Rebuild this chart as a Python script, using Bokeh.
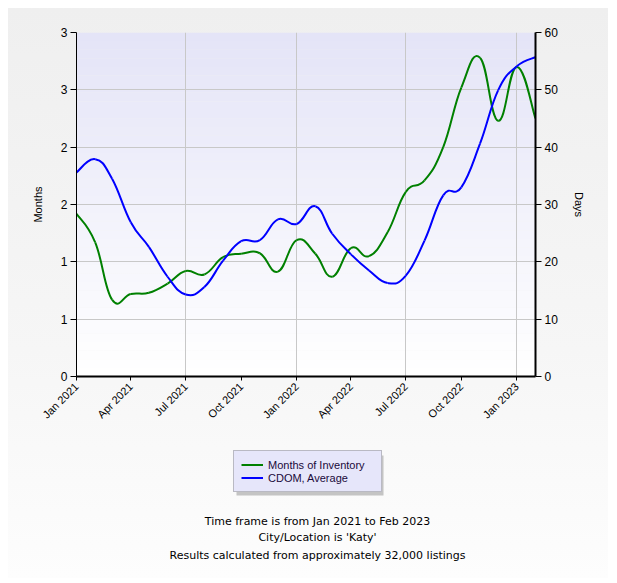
import numpy as np
import pandas as pd
from bokeh.plotting import figure
from bokeh.layouts import column
from bokeh.models import (Range1d, LinearAxis, FixedTicker, Legend, LegendItem,
                          Label, BoxAnnotation)
from bokeh.embed import file_html
from bokeh.resources import INLINE

# ---------------- data ----------------
months = pd.date_range("2021-01-01", "2023-02-01", freq="MS")
months_of_inventory = [1.42, 1.17, 0.67, 0.72, 0.73, 0.81, 0.92, 0.89, 1.04, 1.07,
                       1.075, 0.915, 1.19, 1.07, 0.87, 1.12, 1.05, 1.26, 1.61, 1.71,
                       2.00, 2.52, 2.78, 2.23, 2.70, 2.25]
cdom_average = [35.6, 37.9, 34.5, 26.9, 22.6, 17.4, 14.3, 15.6, 20.2, 23.6,
                23.8, 27.4, 26.6, 29.7, 24.9, 21.3, 18.5, 16.3, 17.6, 23.7,
                31.6, 33.0, 40.6, 49.9, 54.1, 55.7]
series_names = ["Months of Inventory", "CDOM, Average"]
series_colors = ["#008000", "#0000FF"]
x_tick_dates = pd.date_range("2021-01-01", "2023-01-01", freq="3MS")
x_tick_labels = ["Jan 2021", "Apr 2021", "Jul 2021", "Oct 2021", "Jan 2022",
                 "Apr 2022", "Jul 2022", "Oct 2022", "Jan 2023"]
x_grid_dates = pd.date_range("2021-01-01", "2023-01-01", freq="6MS")
left_tick_values = [0, 0.5, 1, 1.5, 2, 2.5, 3]
left_tick_labels = ["0", "1", "1", "2", "2", "3", "3"]
right_tick_values = [0, 10, 20, 30, 40, 50, 60]
footer_lines = ["Time frame is from Jan 2021 to Feb 2023",
                "City/Location is 'Katy'",
                "Results calculated from approximately 32,000 listings"]


def to_ms(idx):
    return (pd.DatetimeIndex(idx).as_unit("ms").asi8).astype(float)


xs = to_ms(months)


def spline_segments(x, y, tension=0.65):
    x = np.asarray(x, float)
    y = np.asarray(y, float)
    xp = np.concatenate([[x[0]], x, [x[-1]]])
    yp = np.concatenate([[y[0]], y, [y[-1]]])
    tx = xp[2:] - xp[:-2]
    ty = yp[2:] - yp[:-2]
    k = tension / 3.0
    return dict(x0=x[:-1], y0=y[:-1], x1=x[1:], y1=y[1:],
                cx0=x[:-1] + k * tx[:-1], cy0=y[:-1] + k * ty[:-1],
                cx1=x[1:] - k * tx[1:], cy1=y[1:] - k * ty[1:])


W, H1, H2 = 600, 440, 130
FL, FR, FT, FB = 68, 527, 24, 368  # frame edges in canvas px

p = figure(width=W, height=H1, x_axis_type="datetime", output_backend="svg",
           toolbar_location=None,
           x_range=Range1d(xs[0], xs[-1]), y_range=Range1d(0, 3),
           min_border_left=FL, min_border_right=W - FR,
           min_border_top=FT, min_border_bottom=H1 - FB)
p.extra_y_ranges = {"days": Range1d(0, 60)}
p.border_fill_color = None
p.background_fill_color = None
p.outline_line_color = None

# plot-area gradient background
nb = 40
top_c = np.array([228, 228, 247])
bot_c = np.array([255, 255, 255])
for i in range(nb):
    f = (i + 0.5) / nb
    c = bot_c + (top_c - bot_c) * f
    col = "#%02x%02x%02x" % tuple(int(round(v)) for v in c)
    p.add_layout(BoxAnnotation(bottom=3 * i / nb, top=3 * (i + 1) / nb,
                               fill_color=col, fill_alpha=1, line_alpha=0,
                               level="image"))

# grids
p.ygrid.ticker = FixedTicker(ticks=left_tick_values)
p.ygrid.grid_line_color = "#C8C8C8"
p.xgrid.ticker = FixedTicker(ticks=list(to_ms(x_grid_dates)))
p.xgrid.grid_line_color = "#C8C8C8"

# axes
tick_font = "Liberation Sans"
xa = p.xaxis[0]
xa.ticker = FixedTicker(ticks=list(to_ms(x_tick_dates)))
xa.major_label_overrides = {float(t): l for t, l in zip(to_ms(x_tick_dates), x_tick_labels)}
xa.major_label_orientation = np.pi / 4
xa.major_label_text_font = tick_font
xa.major_label_text_font_size = "11px"
xa.major_label_text_color = "black"
xa.axis_line_width = 2
xa.axis_line_color = "black"
xa.major_tick_out = 4
xa.major_tick_in = 0
xa.minor_tick_line_color = None
xa.major_label_standoff = 4

ya = p.yaxis[0]
ya.ticker = FixedTicker(ticks=left_tick_values)
ya.major_label_overrides = {v: l for v, l in zip(left_tick_values, left_tick_labels)}
ya.axis_label = "Months"
ya.axis_label_text_font = tick_font
ya.axis_label_text_font_size = "11px"
ya.axis_label_text_font_style = "normal"
ya.axis_label_text_color = "black"
ya.axis_label_standoff = 14
ya.major_label_text_font = tick_font
ya.major_label_text_font_size = "12px"
ya.major_label_text_color = "black"
ya.axis_line_color = "black"
ya.major_tick_out = 6
ya.major_tick_in = 0
ya.minor_tick_line_color = None
ya.major_label_standoff = 3

ra = LinearAxis(y_range_name="days", ticker=FixedTicker(ticks=right_tick_values))
ra.axis_label = "Days"
ra.axis_label_text_font = tick_font
ra.axis_label_text_font_size = "11px"
ra.axis_label_text_font_style = "normal"
ra.axis_label_text_color = "black"
ra.axis_label_standoff = 12
ra.major_label_text_font = tick_font
ra.major_label_text_font_size = "12px"
ra.major_label_text_color = "black"
ra.axis_line_width = 2
ra.axis_line_color = "black"
ra.major_tick_out = 6
ra.major_tick_in = 0
ra.minor_tick_line_color = None
ra.major_label_standoff = 3
p.add_layout(ra, "right")

# series
p.bezier(**spline_segments(xs, months_of_inventory), line_color=series_colors[0], line_width=2)
p.bezier(**spline_segments(xs, cdom_average), line_color=series_colors[1], line_width=2,
         y_range_name="days")

# ---------------- lower panel: legend + footer ----------------
# frame aligned with the upper plot; data coordinates == canvas pixels
p2 = figure(width=W, height=H2, output_backend="svg", toolbar_location=None,
            x_range=Range1d(FL, FR), y_range=Range1d(H2, 0),
            x_axis_location=None, y_axis_location=None,
            min_border_left=FL, min_border_right=W - FR, min_border_top=0, min_border_bottom=0)
p2.grid.visible = False
p2.outline_line_color = None
p2.border_fill_color = None
p2.background_fill_color = None

# legend shadow
p2.add_layout(BoxAnnotation(left=228, right=375, top=7, bottom=47,
                            fill_color="#A0A0A0", fill_alpha=0.6, line_alpha=0))
dummies = [p2.line([-1000, -999], [-1000, -1000], line_color=c, line_width=2)
           for c in series_colors]
legend = Legend(items=[LegendItem(label=n, renderers=[r]) for n, r in zip(series_names, dummies)],
                location=(225 - FL, H2 - 44))
legend.background_fill_color = "#E6E6FA"
legend.background_fill_alpha = 1
legend.border_line_color = "#8C8C8C"
legend.border_line_width = 1
legend.label_text_font = tick_font
legend.label_text_font_size = "11px"
legend.label_text_color = "#1A0A3A"
legend.label_height = 13
legend.glyph_height = 13
legend.glyph_width = 22
legend.label_standoff = 5
legend.padding = 7
legend.spacing = 0
legend.margin = 0
legend.label_width = 106
p2.add_layout(legend)

for yy, line in zip([73, 89, 107], footer_lines):
    p2.add_layout(Label(x=309, y=yy, text=line, text_align="center", text_baseline="middle",
                        text_font="DejaVu Sans", text_font_size="11px", text_color="black"))

layout = column(p, p2, spacing=0,
                styles={"margin-left": "8px", "margin-top": "8px",
                        "background": "linear-gradient(to bottom, #EFEFEF 0%, #F6F6F6 60%, #FDFDFD 100%)"})

open("out.html", "w").write(file_html(layout, INLINE))
